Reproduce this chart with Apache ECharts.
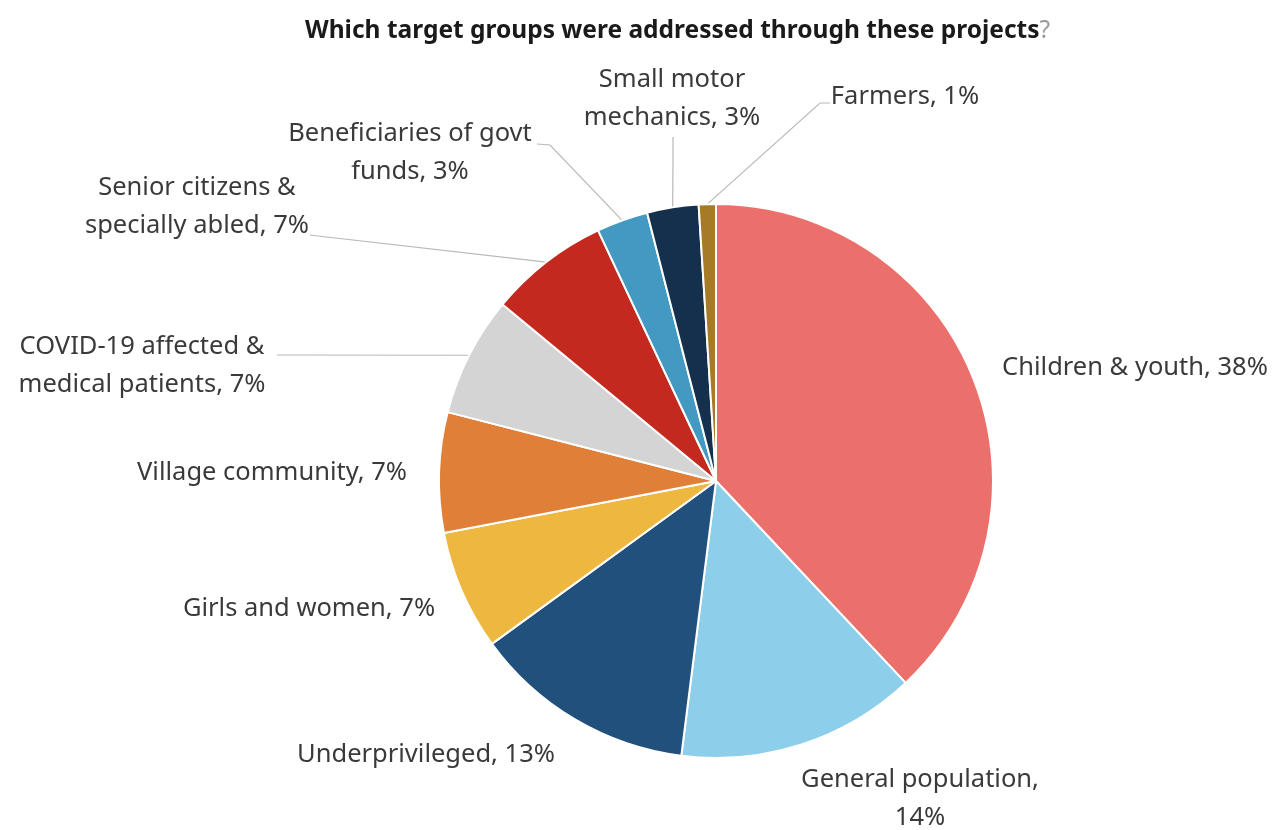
<!DOCTYPE html>
<html>
<head>
<meta charset="utf-8">
<style>
  html, body { margin: 0; padding: 0; background: #ffffff; }
  #chart { width: 1283px; height: 830px; }
</style>
<script src="https://cdn.jsdelivr.net/npm/echarts@6/dist/echarts.min.js"></script>
</head>
<body>
<div id="chart"></div>
<script>
// ---- data ----
const categories = [
  'Children & youth', 'General population', 'Underprivileged', 'Girls and women',
  'Village community', 'COVID-19 affected & medical patients', 'Senior citizens & specially abled',
  'Beneficiaries of govt funds', 'Small motor mechanics', 'Farmers'
];
const values = [38, 14, 13, 7, 7, 7, 7, 3, 3, 1];
const labelTexts = [
  'Children & youth, 38%', 'General population,\n14%', 'Underprivileged, 13%', 'Girls and women, 7%',
  'Village community, 7%', 'COVID-19 affected &\nmedical patients, 7%', 'Senior citizens &\nspecially abled, 7%',
  'Beneficiaries of govt\nfunds, 3%', 'Small motor\nmechanics, 3%', 'Farmers, 1%'
];
const titleText = 'Which target groups were addressed through these projects';

// ---- styling / layout (not data) ----
const colors = ['#EB706B', '#8DCFEA', '#22507C', '#EEB840', '#E07F38', '#D4D4D4', '#C4291F', '#4399C1', '#15304D', '#A77A27'];
// label block centers (px)
const labelCenters = [
  [1135, 368], [920, 799], [426, 755], [309, 609], [272, 473],
  [142, 366], [197, 207], [410, 153], [672, 99], [905, 97]
];
// leader line: [elbow, end] near label, or null
const leaderEnds = [
  null, null, null, null, null,
  [[290, 355], [277, 355]],
  [[318, 236], [310, 235]],
  [[550, 145], [537, 144]],
  [[673, 160], [673, 137]],
  [[820, 103], [830, 103]]
];

const chart = echarts.init(document.getElementById('chart'));
const seriesData = categories.map((c, i) => ({
  name: c,
  value: values[i],
  itemStyle: { color: colors[i] },
  label: { formatter: labelTexts[i] },
  labelLine: { show: leaderEnds[i] !== null }
}));

chart.setOption({
  animation: false,
  title: {
    text: '{a|' + titleText + '}{q|?}',
    left: 300,
    top: 14,
    textStyle: {
      rich: {
        a: { fontFamily: 'Noto Sans', fontSize: 24.5, fontWeight: 'bold', color: '#1a1a1a' },
        q: { fontFamily: 'Noto Sans', fontSize: 24.5, fontWeight: 'normal', color: '#9a9a9a' }
      }
    }
  },
  series: [{
    type: 'pie',
    center: [716, 481],
    radius: 277,
    startAngle: 90,
    clockwise: true,
    avoidLabelOverlap: false,
    data: seriesData,
    itemStyle: { borderColor: '#ffffff', borderWidth: 2 },
    label: {
      show: true,
      position: 'outside',
      fontFamily: 'Noto Sans',
      fontSize: 25.5,
      color: '#3a3a3a',
      lineHeight: 38,
      align: 'center'
    },
    labelLine: {
      show: true,
      lineStyle: { color: '#b8b8b8', width: 1.2 }
    },
    labelLayout: function (params) {
      const i = params.dataIndex;
      const c = labelCenters[i];
      const out = { x: c[0], y: c[1], align: 'center', verticalAlign: 'middle' };
      const le = leaderEnds[i];
      if (le && params.labelLinePoints) {
        const p0 = params.labelLinePoints[0];
        out.labelLinePoints = [[p0[0], p0[1]], le[0], le[1]];
      }
      return out;
    }
  }]
});
</script>
</body>
</html>
